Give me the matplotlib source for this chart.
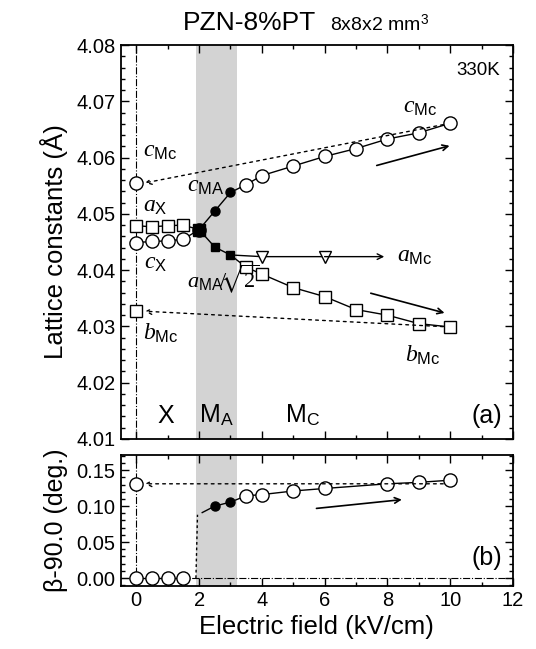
import matplotlib
matplotlib.use('Agg')
import matplotlib.pyplot as plt
from matplotlib.ticker import MultipleLocator, FormatStrFormatter

plt.rcParams['font.family'] = ['Liberation Sans', 'DejaVu Sans']
plt.rcParams['mathtext.fontset'] = 'custom'
plt.rcParams['mathtext.it'] = 'Liberation Serif:italic'
plt.rcParams['mathtext.rm'] = 'Liberation Serif'
plt.rcParams['mathtext.sf'] = 'Liberation Sans'
plt.rcParams['mathtext.fallback'] = 'stix'

# ---- data ----
# top panel (lattice constants, Angstrom)
x_low = [0, 0.5, 1, 1.5]
cX = [4.0449, 4.0451, 4.0452, 4.0455]
aX = [4.0479, 4.0477, 4.0479, 4.0480]
x_merge = 2.0
y_merge = 4.0472

x_MA = [2.5, 3.0]
cMA = [4.0505, 4.0538]
aMA = [4.0441, 4.0427]

x_MC = [3.5, 4, 5, 6, 7, 8, 9, 10]
cMC = [4.0552, 4.0568, 4.0585, 4.0602, 4.0616, 4.0633, 4.0644, 4.0661]
bMC = [4.0405, 4.0393, 4.0369, 4.0353, 4.0330, 4.0320, 4.0305, 4.0299]
x_aMC = [4, 6]
aMC = [4.0424, 4.0424]

# after the field is removed (x = 0)
cMC_zero = 4.0555
bMC_zero = 4.0327

# bottom panel (beta - 90, deg)
beta_low = [0, 0, 0, 0]
beta_MA = [0.100, 0.1056]
x_bMC = [3.5, 4, 5, 6, 8, 9, 10]
beta_MC = [0.1143, 0.116, 0.121, 0.1245, 0.131, 0.133, 0.136]
beta_zero = 0.131

fig = plt.figure(figsize=(5.36, 6.49), dpi=100)
ax1 = fig.add_axes([0.225, 0.3236, 0.732, 0.607])
ax2 = fig.add_axes([0.225, 0.0971, 0.732, 0.2018])

for ax in (ax1, ax2):
    ax.axvspan(1.9, 3.2, color='#d3d3d3', lw=0, zorder=0)
    ax.axvline(0, color='k', ls='-.', lw=0.8, zorder=1)
    ax.set_xlim(-0.5, 12)
    ax.xaxis.set_major_locator(MultipleLocator(2))
    ax.xaxis.set_minor_locator(MultipleLocator(1))
    ax.tick_params(which='both', direction='in', top=True, right=True, labelsize=14.5)
    ax.tick_params(which='major', length=6, width=1)
    ax.tick_params(which='minor', length=3, width=1)
    for s in ax.spines.values():
        s.set_linewidth(1.3)

open_c = dict(marker='o', ms=9.5, mfc='white', mec='k', mew=1, color='k', lw=1)
open_s = dict(marker='s', ms=8, mfc='white', mec='k', mew=1, color='k', lw=1)
dotted_arrow = dict(arrowstyle='->', lw=1, ls=(0, (2, 3)), color='k', shrinkA=5, shrinkB=0)
solid_arrow = dict(arrowstyle='->', lw=1.2, color='k', shrinkA=0, shrinkB=0)

# --- top panel ---
ax1.plot(x_low + [x_merge], cX + [y_merge], **open_c)
ax1.plot(x_low + [x_merge], aX + [y_merge], **open_s)
ax1.plot([x_merge] + x_MA + x_MC[:1], [y_merge] + cMA + cMC[:1], 'k-', lw=1)
ax1.plot([x_merge] + x_MA + x_MC[:1], [y_merge] + aMA + bMC[:1], 'k-', lw=1)
ax1.plot(x_MC, cMC, **open_c)
ax1.plot(x_MC, bMC, **open_s)
ax1.plot([x_merge], [y_merge], 's', ms=7, color='k')
ax1.plot(x_MA, cMA, 'o', ms=6.5, color='k')
ax1.plot(x_MA, aMA, 's', ms=6, color='k')
ax1.plot([x_MA[-1]] + x_aMC, [aMA[-1]] + aMC, 'k-', lw=1)
ax1.plot(x_aMC, aMC, 'v', ms=9, mfc='white', mec='k', mew=1, ls='none')
ax1.annotate('', xy=(7.9, aMC[-1]), xytext=(x_aMC[-1], aMC[-1]),
             arrowprops=dict(arrowstyle='->', lw=1, color='k', shrinkA=0, shrinkB=0))
ax1.plot([0], [cMC_zero], **open_c)
ax1.plot([0], [bMC_zero], **open_s)
ax1.annotate('', xy=(0.27, cMC_zero), xytext=(x_MC[-1], cMC[-1]), arrowprops=dotted_arrow)
ax1.annotate('', xy=(0.27, bMC_zero), xytext=(x_MC[-1], bMC[-1]), arrowprops=dotted_arrow)
ax1.annotate('', xy=(9.98, 4.0621), xytext=(7.66, 4.0586), arrowprops=solid_arrow)
ax1.annotate('', xy=(9.82, 4.0324), xytext=(7.47, 4.0359), arrowprops=solid_arrow)

ax1.set_ylim(4.01, 4.08)
ax1.yaxis.set_major_locator(MultipleLocator(0.01))
ax1.yaxis.set_minor_locator(MultipleLocator(0.002))
ax1.yaxis.set_major_formatter(FormatStrFormatter('%.2f'))
ax1.tick_params(labelbottom=False)
ax1.set_ylabel('Lattice constants (Å)', fontsize=18.5, labelpad=6)

lab = dict(fontsize=17, va='baseline', ha='left')
ax1.text(0.2, 4.0601, r'$c_{\mathsf{Mc}}$', **lab)
ax1.text(8.5, 4.0679, r'$c_{\mathsf{Mc}}$', **lab)
ax1.text(1.63, 4.0540, r'$c_{\mathsf{MA}}$', **lab)
ax1.text(0.2, 4.0503, r'$a_{\mathsf{X}}$', **lab)
ax1.text(0.25, 4.0403, r'$c_{\mathsf{X}}$', **lab)
ax1.text(1.6, 4.0369, r'$a_{\mathsf{MA}}\!/\!\!\sqrt{2}$', fontsize=16, va='baseline', ha='left')
ax1.text(0.2, 4.0277, r'$b_{\mathsf{Mc}}$', **lab)
ax1.text(8.3, 4.0415, r'$a_{\mathsf{Mc}}$', **lab)
ax1.text(8.55, 4.0238, r'$b_{\mathsf{Mc}}$', **lab)
ax1.text(11.6, 4.0755, '330K', fontsize=13.5, ha='right', va='center')
ax1.text(0.95, 4.0129, 'X', fontsize=18, ha='center', va='baseline')
ax1.text(2.0, 4.0129, r'M$_{\mathsf{A}}$', fontsize=18, ha='left', va='baseline')
ax1.text(4.73, 4.0129, r'M$_{\mathsf{C}}$', fontsize=18, ha='left', va='baseline')
ax1.text(11.65, 4.0129, '(a)', fontsize=18, ha='right', va='baseline')

# --- bottom panel ---
ax2.axhline(0, color='k', ls='-.', lw=0.8, zorder=1)
ax2.plot(x_low, beta_low, **open_c)
ax2.plot([1.9, 1.95], [0, 0.088], 'k', ls=(0, (2, 2)), lw=1)
ax2.plot([2.1] + x_MA + x_bMC[:1], [0.091] + beta_MA + beta_MC[:1], 'k-', lw=1)
ax2.plot(x_MA, beta_MA, 'o', ms=6.5, color='k')
ax2.plot(x_bMC, beta_MC, **open_c)
ax2.plot([0], [beta_zero], **open_c)
ax2.annotate('', xy=(0.27, beta_zero), xytext=(x_bMC[-1], beta_zero), arrowprops=dotted_arrow)
ax2.annotate('', xy=(8.46, 0.109), xytext=(5.74, 0.0968), arrowprops=solid_arrow)
ax2.set_ylim(-0.011, 0.171)
ax2.yaxis.set_major_locator(MultipleLocator(0.05))
ax2.yaxis.set_minor_locator(MultipleLocator(0.01))
ax2.yaxis.set_major_formatter(FormatStrFormatter('%.2f'))
ax2.text(11.65, 0.028, '(b)', fontsize=18, ha='right', va='center')
ax2.set_ylabel('β-90.0 (deg.)', fontsize=18, labelpad=6)
ax2.set_xlabel('Electric field (kV/cm)', fontsize=18.5, labelpad=4)

fig.text(0.59, 0.965, 'PZN-8%PT', fontsize=19, ha='right', va='center')
fig.text(0.615, 0.963, r'8x8x2 mm$^{\mathsf{3}}$', fontsize=14, ha='left', va='center')

fig.savefig('out.png', dpi=100)
